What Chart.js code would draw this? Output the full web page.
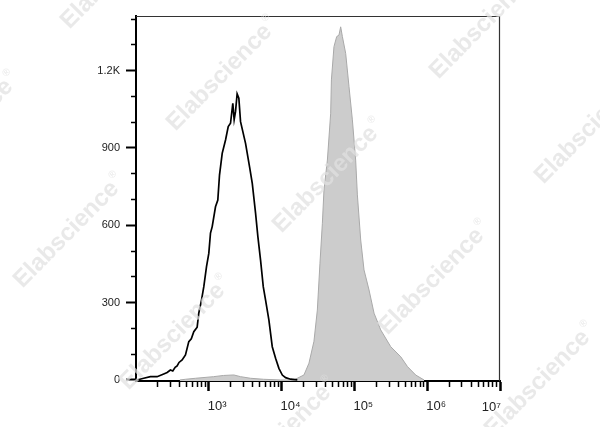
<!DOCTYPE html>
<html>
<head>
<meta charset="utf-8">
<script src="https://cdn.jsdelivr.net/npm/chart.js@4.4.1/dist/chart.umd.min.js"></script>
<style>
  html, body { margin: 0; padding: 0; background: #fff; }
  canvas { display: block; }
</style>
</head>
<body>
<canvas id="c" width="600" height="427"></canvas>
<script>
// ---- data ----
const unstainedX = [103.5,127.6,157.8,195,240.4,268,297,320,345,367,390,430,478,531,575,622,692,728,794,854,929,1000,1055,1114,1236,1330,1403,1528,1698,1849,1987,2138,2230,2328,2450,2587,2729,3197,3631,3955,4388,4722,5140,5598,6023,6687,7442,8267,9182,10230,11350,13300,16440];
const unstainedY = [0,6.6,12.8,12.8,23.3,29,38.8,35,49,54.3,68,77.6,97,148.6,160,187,205,259,310,362,439,491,570,595,672,698,795,879,931,983,996,1073,1010,1041,1110,1093,1002,918,827,763,647,556,465,362,310,233,129,84,45,19,9,3,0];

const stainedX = [400,478,656,1161,1592,2208,2729,3747,5650,9680,14750,20270,23760,27820,30970,33640,36300,38200,42540,47230,48300,52400,57100,61400,64800,68400,75900,84300,93800,104100,109900,122100,135600,158900,186200,230100,315600,433300,535600,696600,906000];
const stainedY = [0,2.7,6.6,12.8,17.5,19.4,12.8,6.6,2.7,0,0,19.4,65,150,271,453,608,737,853,1035,1164,1293,1332,1338,1370,1332,1267,1138,1009,853,718,543,427,349,259,194,129,90,52,19,0];

const xMajorTicks = [1000, 10000, 100000, 1000000, 10000000];
const xTickLabels = ['10³', '10⁴', '10⁵', '10⁶', '10⁷'];
const xMinorTicks = [];
[100, 1000, 10000, 100000, 1000000].forEach(d => { for (let m = 2; m <= 9; m++) xMinorTicks.push(d * m); });

const yMajorTicks = [0, 300, 600, 900, 1200];
const yTickLabels = ['0', '300', '600', '900', '1.2K'];
const yMinorTicks = [100, 200, 400, 500, 700, 800, 1000, 1100, 1300, 1400];

const toPoints = (xs, ys) => xs.map((x, i) => ({ x: x, y: ys[i] }));
const lastX = xMajorTicks[xMajorTicks.length - 1];

// ---- plugins ----
const frame = {
  id: 'frame',
  afterDatasetsDraw(chart) {
    const { ctx, chartArea: a } = chart;
    ctx.save();
    ctx.strokeStyle = '#333';
    ctx.lineWidth = 1.2;
    ctx.beginPath();
    ctx.moveTo(a.left, a.top + 0.5);
    ctx.lineTo(a.right - 0.5, a.top + 0.5);
    ctx.lineTo(a.right - 0.5, a.bottom);
    ctx.stroke();
    ctx.restore();
  }
};

const watermark = {
  id: 'watermark',
  afterDraw(chart) {
    const ctx = chart.ctx;
    const centers = [[117,-28],[223,74],[329,176],[435,278],[541,380],
                     [-36,129],[70,231],[176,333],[282,435],
                     [486,22],[591,127]];
    ctx.save();
    ctx.fillStyle = 'rgba(225,225,225,0.72)';
    centers.forEach(([cx, cy]) => {
      ctx.save();
      ctx.translate(cx, cy);
      ctx.rotate(-Math.atan2(113, 111));
      ctx.font = 'bold 24px "Liberation Sans", Arial, sans-serif';
      const w = ctx.measureText('Elabscience').width;
      ctx.textAlign = 'left';
      ctx.textBaseline = 'middle';
      ctx.fillText('Elabscience', -w / 2 - 5, 0);
      ctx.font = '10px "Liberation Sans", Arial, sans-serif';
      ctx.fillText('®', w / 2 - 3, -9);
      ctx.restore();
    });
    ctx.restore();
  }
};

const font = { family: '"Liberation Sans", Arial, sans-serif' };
const xLabelFont = { ...font, size: 13 };

new Chart(document.getElementById('c'), {
  type: 'line',
  data: {
    datasets: [
      {
        label: 'Unstained',
        data: toPoints(unstainedX, unstainedY),
        borderColor: '#000',
        borderWidth: 1.7,
        pointRadius: 0,
        fill: false,
        tension: 0,
        order: 0
      },
      {
        label: 'Stained',
        data: toPoints(stainedX, stainedY),
        borderColor: '#a9a9a9',
        backgroundColor: '#cccccc',
        borderWidth: 1,
        pointRadius: 0,
        fill: 'start',
        tension: 0,
        order: 1
      }
    ]
  },
  options: {
    responsive: false,
    animation: false,
    devicePixelRatio: 1,
    layout: { padding: { top: 16, right: 100, left: 0, bottom: 0 } },
    plugins: { legend: { display: false }, tooltip: { enabled: false } },
    scales: {
      x: {
        type: 'logarithmic', position: 'bottom', min: 100, max: 10000000, weight: 1,
        afterFit: s => { s.height = 46; },
        afterBuildTicks: s => { s.ticks = xMajorTicks.map(v => ({ value: v })); },
        ticks: {
          callback: (v) => (v === lastX ? '' : xTickLabels[xMajorTicks.indexOf(v)]),
          autoSkip: false, maxRotation: 0, minRotation: 0, align: 'start',
          font: xLabelFont, color: '#222', padding: 8, labelOffset: -1
        },
        grid: { drawOnChartArea: false, tickLength: 10, tickWidth: 2.5, tickColor: '#000' },
        border: { display: true, color: '#000', width: 2 }
      },
      xEnd: {
        type: 'logarithmic', position: 'bottom', min: 100, max: 10000000, weight: 0,
        afterFit: s => { s.height = 0; },
        afterBuildTicks: s => { s.ticks = [{ value: lastX }]; },
        ticks: {
          callback: (v) => xTickLabels[xMajorTicks.indexOf(v)],
          autoSkip: false, maxRotation: 0, minRotation: 0, align: 'end', mirror: true,
          font: xLabelFont, color: '#222', padding: -34, labelOffset: 1
        },
        grid: { drawOnChartArea: false, drawTicks: false },
        border: { display: false }
      },
      xMinor: {
        type: 'logarithmic', position: 'bottom', min: 100, max: 10000000, weight: 0,
        afterFit: s => { s.height = 0; },
        afterBuildTicks: s => { s.ticks = xMinorTicks.map(v => ({ value: v })); },
        ticks: { display: false },
        grid: { drawOnChartArea: false, tickLength: 6, tickWidth: 1.5, tickColor: '#000' },
        border: { display: false }
      },
      y: {
        type: 'linear', position: 'left', min: -4, max: 1412, weight: 1,
        afterFit: s => { s.width = 136; },
        afterBuildTicks: s => { s.ticks = yMajorTicks.map(v => ({ value: v })); },
        ticks: {
          callback: (v) => yTickLabels[yMajorTicks.indexOf(v)],
          autoSkip: false, font: { ...font, size: 11 }, color: '#222', padding: 6
        },
        grid: { drawOnChartArea: false, tickLength: 10, tickWidth: 2, tickColor: '#000' },
        border: { display: true, color: '#000', width: 2 }
      },
      yMinor: {
        type: 'linear', position: 'left', min: -4, max: 1412, weight: 0,
        afterFit: s => { s.width = 0; },
        afterBuildTicks: s => { s.ticks = yMinorTicks.map(v => ({ value: v })); },
        ticks: { display: false },
        grid: { drawOnChartArea: false, tickLength: 5, tickWidth: 1.5, tickColor: '#000' },
        border: { display: false }
      }
    }
  },
  plugins: [frame, watermark]
});
</script>
</body>
</html>
